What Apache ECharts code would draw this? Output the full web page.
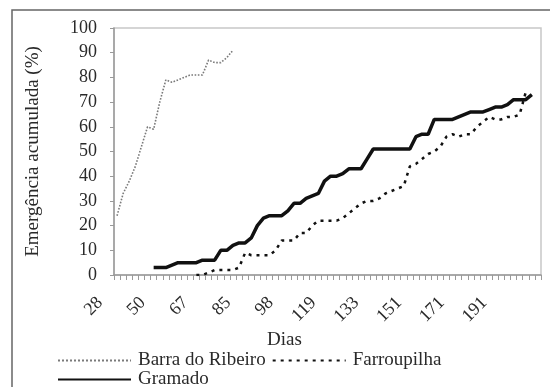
<!DOCTYPE html>
<html>
<head>
<meta charset="utf-8">
<script src="https://cdn.jsdelivr.net/npm/echarts@6/dist/echarts.min.js"></script>
<style>
html,body{margin:0;padding:0;background:#fff;}
#c{width:550px;height:387px;}
</style>
</head>
<body>
<div id="c"></div>
<script>
// ---- data ----
const nCategories = 70;                 // observation dates on the x axis
const tickLabels = ['28','50','67','85','98','119','133','151','171','191']; // shown every 7th date
const labelEvery = 7;

const barraStart = 0;
const barraRibeiro = [24,33,38,44,52,60,59,70,79,78,79,80,81,81,81,87,86,86,88,91];

const gramadoStart = 6;
const gramado = [3,3,3,4,5,5,5,5,6,6,6,10,10,12,13,13,15,20,23,24,24,24,26,29,29,31,32,33,38,40,40,41,43,43,43,47,51,51,51,51,51,51,51,56,57,57,63,63,63,63,64,65,66,66,66,67,68,68,69,71,71,71,73];

const farroupilhaStart = 13;
const farroupilha = [0,0,1,2,2,2,2,3,9,8,8,8,8,10,14,14,14,17,17,20,22,22,22,22,23,25,27,29,30,30,31,33,34,35,36,44,45,47,49,50,52,56,57,56,57,57,60,62,64,63,63,64,64,65,74];

const yTicks = {min:0, max:100, interval:10};

// ---- build ----
const cats = [];
for (let i = 0; i < nCategories; i++) cats.push(String(i));
function place(start, vals){
  const out = new Array(nCategories).fill(null);
  vals.forEach((v,k)=>{ out[start+k] = v; });
  return out;
}
const FONT = 'Liberation Serif';
const TXT = '#2a2a2a';

const legendCommon = {
  orient:'horizontal', itemWidth:73, itemHeight:12, itemGap:6,
  itemStyle:{opacity:0},
  textStyle:{fontFamily:FONT, fontSize:19, color:TXT, padding:[0,0,0,2]}
};

const chart = echarts.init(document.getElementById('c'), null, {renderer:'canvas'});
chart.setOption({
  animation:false,
  backgroundColor:'#fff',
  grid:{left:114, right:9, top:28, bottom:112, show:true, borderColor:'#c8c8c8', borderWidth:1.5},
  xAxis:{
    type:'category', data:cats, boundaryGap:true,
    axisLine:{lineStyle:{color:'#9a9a9a', width:1.5}},
    axisTick:{show:true, interval:0, length:5, lineStyle:{color:'#9a9a9a'}},
    axisLabel:{
      interval:labelEvery-1, rotate:45, margin:8,
      padding:[0,24,0,0],
      fontFamily:FONT, fontSize:18, color:TXT,
      formatter:(v, idx)=> (idx % labelEvery === 0 ? (tickLabels[idx/labelEvery] || '') : '')
    },
    splitLine:{show:false}
  },
  yAxis:{
    type:'value', min:yTicks.min, max:yTicks.max, interval:yTicks.interval,
    name:'Emergência acumulada (%)', nameLocation:'middle', nameGap:71, nameRotate:90,
    nameTextStyle:{fontFamily:FONT, fontSize:19, color:TXT},
    axisLine:{show:true, lineStyle:{color:'#9a9a9a', width:1.5}},
    axisTick:{show:true, inside:false, length:4, lineStyle:{color:'#9a9a9a'}},
    axisLabel:{margin:17, fontFamily:FONT, fontSize:18, color:TXT},
    splitLine:{show:false}
  },
  legend:[
    Object.assign({data:['Barra do Ribeiro','Farroupilha'], left:52, top:346}, legendCommon),
    Object.assign({data:['Gramado'], left:52, top:365}, legendCommon)
  ],
  graphic:[
    {type:'rect', shape:{x:12, y:10, width:540, height:395},
     style:{fill:'none', stroke:'#666', lineWidth:1.5}, silent:true},
    {type:'text', left:267, top:331,
     style:{text:'Dias', fontFamily:FONT, fontSize:19, fill:TXT}}
  ],
  series:[
    {
      name:'Barra do Ribeiro', type:'line', data:place(barraStart, barraRibeiro),
      showSymbol:false, symbol:'none', connectNulls:false,
      lineStyle:{color:'#7a7a7a', width:1.6, type:'dotted'},
      itemStyle:{color:'#7a7a7a'}, z:3
    },
    {
      name:'Farroupilha', type:'line', data:place(farroupilhaStart, farroupilha),
      showSymbol:false, symbol:'none', connectNulls:false,
      lineStyle:{color:'#111', width:2.5, type:[3,5]},
      itemStyle:{color:'#111'}, z:4
    },
    {
      name:'Gramado', type:'line', data:place(gramadoStart, gramado),
      showSymbol:false, symbol:'none', connectNulls:false,
      lineStyle:{color:'#111', width:3.5, type:'solid'},
      itemStyle:{color:'#111'}, z:3
    }
  ]
});
</script>
</body>
</html>
